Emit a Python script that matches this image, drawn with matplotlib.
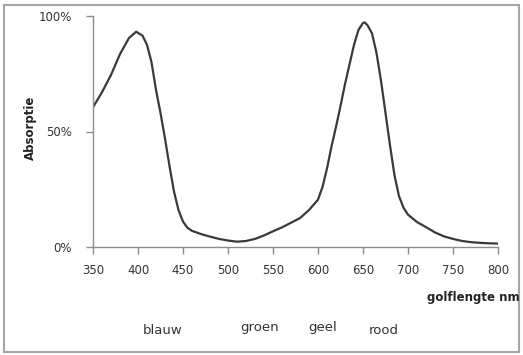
import matplotlib
matplotlib.use("Agg")
import matplotlib.pyplot as plt
from matplotlib.patches import Rectangle
from matplotlib.ticker import FuncFormatter

wavelength = [350, 360, 370, 380, 390, 398, 405, 410, 415, 420, 425, 430, 435, 440, 445, 450,
              455, 460, 470, 480, 490, 500, 510, 520, 530, 540, 550, 560, 570, 580, 590, 600,
              605, 610, 615, 620, 625, 630, 635, 640, 645, 650, 652, 655, 660, 665, 670, 675, 680,
              685, 690, 695, 700, 710, 720, 730, 740, 750, 760, 770, 780, 790, 800]
absorption = [60.5, 67, 74.5, 83.5, 90.5, 93.2, 91.5, 87.5, 80, 68, 58, 47, 35, 24, 16, 11,
              8.3, 7, 5.6, 4.5, 3.5, 2.8, 2.3, 2.6, 3.5, 5, 6.8, 8.5, 10.5, 12.5, 16, 20.5,
              26, 34, 43.5, 52, 61, 70.5, 79, 87.5, 94, 97, 97.2, 96, 92.5, 84, 72, 58, 44,
              31, 22, 17, 14, 10.8, 8.6, 6.3, 4.6, 3.5, 2.6, 2.1, 1.8, 1.6, 1.5]
x_ticks = [350, 400, 450, 500, 550, 600, 650, 700, 750, 800]
y_ticks = [0, 50, 100]
colour_names = ["blauw", "groen", "geel", "rood"]

plt.rcParams['font.family'] = ['DejaVu Sans']

W, H = 523, 355
fig = plt.figure(figsize=(W / 100, H / 100), dpi=100)
fig.patch.set_facecolor('white')
fig.patches.append(Rectangle((4 / W, 3 / H), 515 / W, 347 / H, transform=fig.transFigure,
                             fill=False, edgecolor='#a6a6a6', linewidth=1.5))

ax = fig.add_axes([93 / W, (H - 247) / H, 405 / W, 231 / H])
ax.plot(wavelength, absorption, color='#3a3a3a', linewidth=1.6)
ax.set_xlim(350, 800)
ax.set_ylim(0, 100)
ax.set_xticks(x_ticks)
ax.set_yticks(y_ticks)
ax.yaxis.set_major_formatter(FuncFormatter(lambda v, p: f"{int(v)}%"))
for s in ['top', 'right']:
    ax.spines[s].set_visible(False)
for s in ['left', 'bottom']:
    ax.spines[s].set_color('#8c8c8c')
    ax.spines[s].set_linewidth(1.0)
ax.tick_params(axis='both', direction='out', length=5, width=1, color='#8c8c8c',
               labelsize=8.5, labelcolor='#333333')
ax.tick_params(axis='x', pad=7)
ax.tick_params(axis='y', pad=10)

fig.text(30 / W, 1 - 128 / H, "Absorptie", rotation=90, ha='center', va='center',
         fontsize=8.5, fontweight='bold', color='#222222')
fig.text(520 / W, 1 - 297 / H, "golflengte nm", ha='right', va='center',
         fontsize=8.5, fontweight='bold', color='#222222')
for name, xc, yc in zip(colour_names, [163, 260, 323, 384], [330, 327, 328, 330]):
    fig.text(xc / W, 1 - yc / H, name, ha='center', va='center', fontsize=9.5, color='#333333')

fig.savefig("out.png", dpi=100)
